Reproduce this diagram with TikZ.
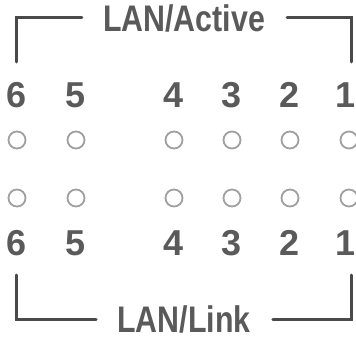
\documentclass[tikz,border=0pt]{standalone}
\usepackage{fontspec}
\setmainfont{Liberation Sans}
\newfontfamily\titlefont[FakeStretch=0.82]{Liberation Sans}
\usetikzlibrary{positioning}
\definecolor{framegray}{HTML}{4A4A4A}
\definecolor{textgray}{HTML}{5A5A5A}
\definecolor{ledgray}{HTML}{A0A0A0}

\begin{document}
\begin{tikzpicture}
	[
		x=1pt, y=-1pt,
		title/.style={font=\titlefont\fontsize{37}{40}\selectfont\bfseries, text=textgray, inner sep=0pt},
		port/.style={font=\fontsize{36}{40}\selectfont\bfseries, text=textgray, inner sep=0pt},
		led/.style={circle, draw=ledgray, line width=1.8pt, minimum size=17pt, inner sep=0pt},
		frame/.style={draw=framegray, line width=3pt, line cap=round}
	]

	\useasboundingbox (0,0) rectangle (356,339);

	% titles
	\node[title] (active) at ( 184, 18 ) {LAN/Active};
	\node[title] (link) at ( 184, 319 ) {LAN/Link};

	% frame corners
	\coordinate (tl) at ( 16, 62 );
	\coordinate (tr) at ( 351, 62 );
	\coordinate (bl) at ( 16, 275 );
	\coordinate (br) at ( 351, 275 );

	% ports and leds
	\foreach \n/\x/\tx in {6/17/17,5/76/76,4/174/174,3/232/232,2/290/290,1/349/346}
	{
		\node[port] (top\n) at ( \tx, 95 ) {\n};
		\node[led] (act\n) at ( \x, 140 ) {};
		\node[led] (lnk\n) at ( \x, 198 ) {};
		\node[port] (bot\n) at ( \tx, 243 ) {\n};
	}

	% frame lines
	\draw[frame] (tl) |- ([xshift=-21pt]active.west);
	\draw[frame] (tr) |- ([xshift=22pt]active.east);
	\draw[frame] (bl) |- ([xshift=-21pt]link.west);
	\draw[frame] (br) |- ([xshift=22pt]link.east);

\end{tikzpicture}
\end{document}
